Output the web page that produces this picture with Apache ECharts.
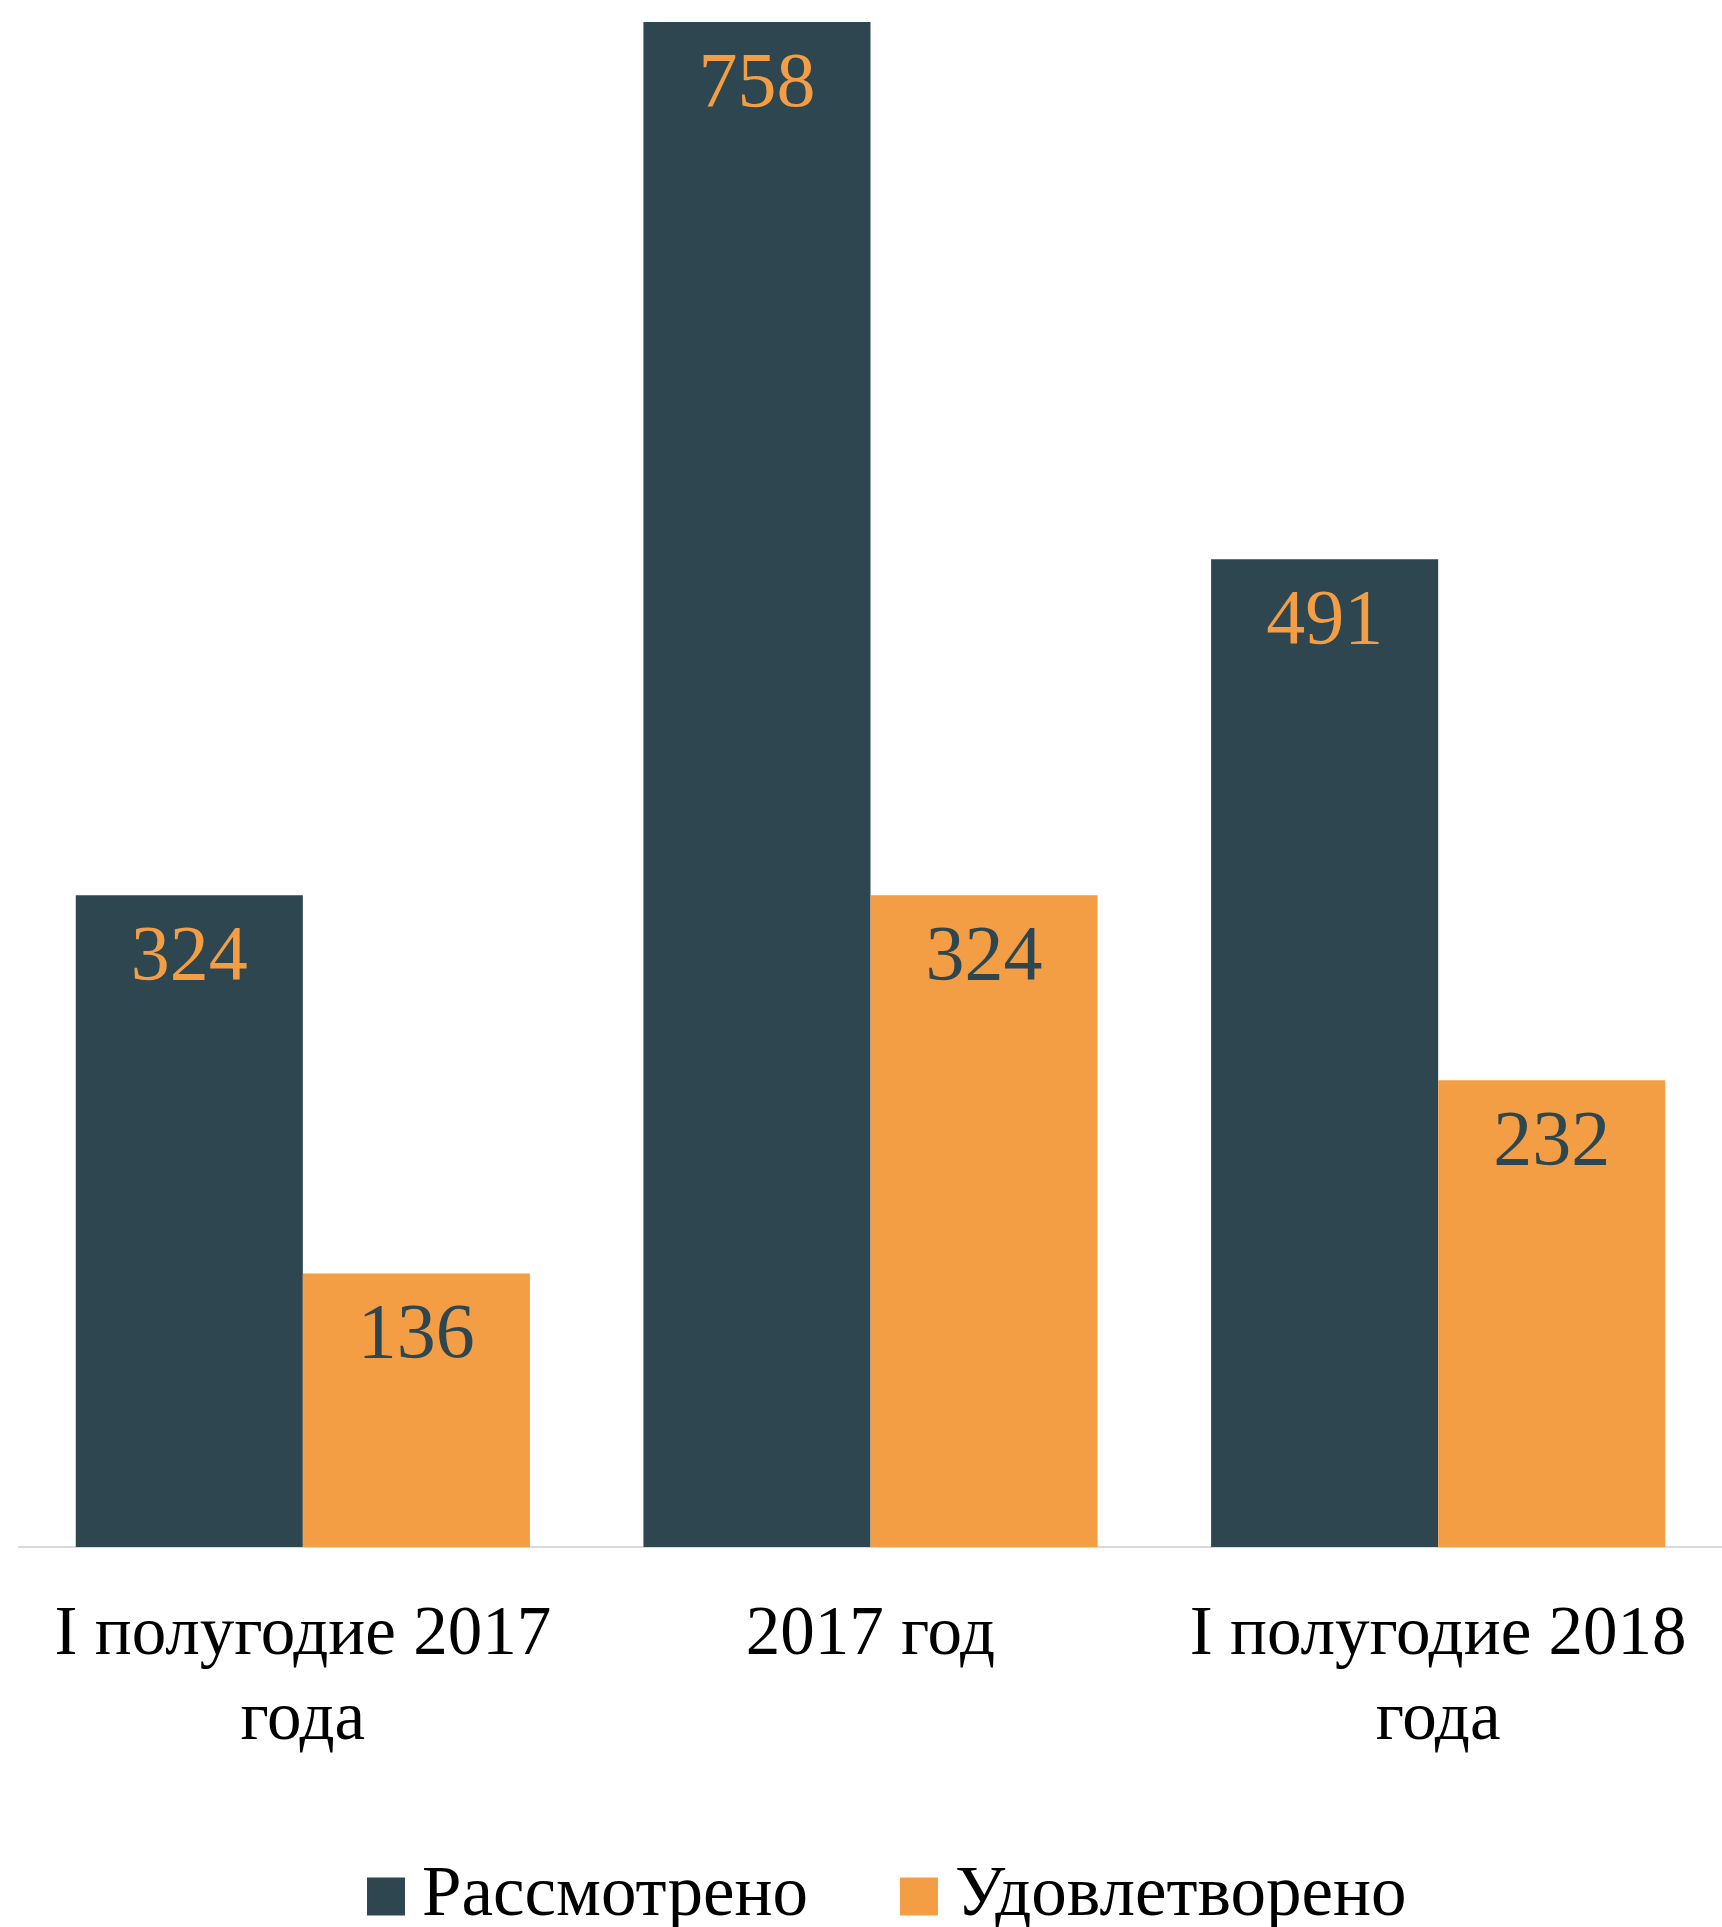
<!DOCTYPE html>
<html><head><meta charset="utf-8">
<script src="https://cdn.jsdelivr.net/npm/echarts@6/dist/echarts.min.js"></script>
<style>html,body{margin:0;padding:0;background:#fff}#c{width:1722px;height:1927px}</style>
</head><body><div id="c"></div>
<script>
const categories = ['I полугодие 2017\nгода', '2017 год', 'I полугодие 2018\nгода'];
const seriesNames = ['Рассмотрено', 'Удовлетворено'];
const reviewed = [324, 758, 491];
const satisfied = [136, 324, 232];
const DARK = '#2E4650', ORANGE = '#F39D45';
const FONT = '"Liberation Serif", "DejaVu Serif", serif';
const chart = echarts.init(document.getElementById('c'), null, {renderer: 'canvas'});
chart.setOption({
  animation: false,
  backgroundColor: '#fff',
  color: [DARK, ORANGE],
  grid: {left: 19, right: -8, top: 18, bottom: 380, containLabel: false},
  legend: {
    top: 1856, left: 362,
    itemWidth: 38, itemHeight: 38, itemGap: 92,
    icon: 'rect',
    textStyle: {fontFamily: FONT, fontSize: 71, color: '#000', padding: [0,0,0,12]},
    data: seriesNames
  },
  xAxis: {
    type: 'category', data: categories,
    axisLine: {lineStyle: {color: '#D9D9D9', width: 2}},
    axisTick: {show: false},
    axisLabel: {fontFamily: FONT, fontSize: 69, color: '#000', lineHeight: 85, margin: 46, interval: 0}
  },
  yAxis: {type: 'value', min: 0, max: 760, show: false, splitLine: {show: false}},
  series: [
    {name: seriesNames[0], type: 'bar', data: reviewed, barGap: '0%', barCategoryGap: '20%',
     itemStyle: {color: DARK},
     label: {show: true, position: 'insideTop', distance: 24, color: ORANGE, fontFamily: FONT, fontSize: 78}},
    {name: seriesNames[1], type: 'bar', data: satisfied, barGap: '0%', barCategoryGap: '20%',
     itemStyle: {color: ORANGE},
     label: {show: true, position: 'insideTop', distance: 24, color: DARK, fontFamily: FONT, fontSize: 78}}
  ]
});
</script></body></html>
